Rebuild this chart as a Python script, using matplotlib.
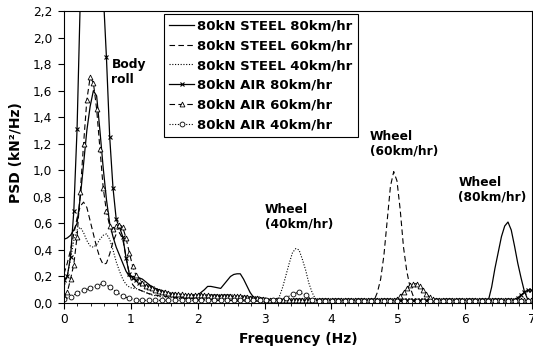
import numpy as np
import matplotlib.pyplot as plt
from matplotlib.ticker import MultipleLocator, FuncFormatter

# frequency resolution of the spectra (Hz): 2048 / 1024 point records at 100 Hz
df_fine = 100 / 2048
df_coarse = 100 / 1024

# PSD values (kN^2/Hz), steel and air suspension, 80kN axle load
steel_80 = [
    0.48, 0.49, 0.51, 0.55, 0.60, 0.80, 1.05, 1.30, 1.48, 1.60, 1.56, 1.30,
    1.02, 0.78, 0.60, 0.50, 0.42, 0.36, 0.30, 0.24, 0.20, 0.20, 0.20, 0.19,
    0.18, 0.16, 0.14, 0.12, 0.11, 0.10, 0.09, 0.08, 0.07, 0.065, 0.06, 0.055,
    0.05, 0.05, 0.045, 0.045, 0.05, 0.06, 0.08, 0.10, 0.125, 0.125, 0.12, 0.115,
    0.11, 0.14, 0.17, 0.20, 0.215, 0.22, 0.22, 0.18, 0.13, 0.08, 0.045, 0.03,
    0.02, 0.02, 0.015, 0.015, 0.015, 0.015, 0.015, 0.015, 0.015, 0.015, 0.015, 0.015,
    0.015, 0.015, 0.015, 0.015, 0.015, 0.015, 0.015, 0.015, 0.015, 0.015, 0.015, 0.015,
    0.015, 0.015, 0.015, 0.015, 0.015, 0.015, 0.015, 0.015, 0.015, 0.015, 0.015, 0.015,
    0.015, 0.015, 0.015, 0.015, 0.015, 0.015, 0.015, 0.015, 0.015, 0.015, 0.015, 0.015,
    0.015, 0.015, 0.015, 0.015, 0.015, 0.015, 0.015, 0.015, 0.015, 0.015, 0.015, 0.015,
    0.015, 0.015, 0.015, 0.015, 0.015, 0.015, 0.015, 0.015, 0.015, 0.015, 0.02, 0.12,
    0.26, 0.38, 0.50, 0.58, 0.61, 0.55, 0.43, 0.30, 0.19, 0.09, 0.03, 0.01,
]
steel_60 = [
    0.22, 0.30, 0.40, 0.52, 0.64, 0.73, 0.76, 0.72, 0.62, 0.52, 0.42, 0.34,
    0.29, 0.30, 0.37, 0.46, 0.52, 0.53, 0.48, 0.35, 0.22, 0.14, 0.11, 0.10,
    0.09, 0.08, 0.07, 0.065, 0.06, 0.055, 0.05, 0.05, 0.045, 0.045, 0.04, 0.04,
    0.04, 0.035, 0.035, 0.035, 0.035, 0.03, 0.03, 0.03, 0.025, 0.025, 0.025, 0.02,
    0.02, 0.02, 0.02, 0.02, 0.015, 0.015, 0.015, 0.015, 0.015, 0.015, 0.015, 0.015,
    0.015, 0.015, 0.015, 0.015, 0.015, 0.015, 0.015, 0.015, 0.015, 0.015, 0.015, 0.015,
    0.015, 0.015, 0.015, 0.015, 0.015, 0.015, 0.015, 0.015, 0.015, 0.015, 0.015, 0.015,
    0.015, 0.015, 0.015, 0.015, 0.015, 0.015, 0.015, 0.015, 0.015, 0.015, 0.015, 0.02,
    0.08, 0.18, 0.36, 0.62, 0.88, 0.99, 0.92, 0.70, 0.42, 0.24, 0.12, 0.05,
    0.02, 0.015, 0.015, 0.015, 0.015, 0.015, 0.015, 0.015, 0.015, 0.015, 0.015, 0.015,
    0.015, 0.015, 0.015, 0.015, 0.015, 0.015, 0.015, 0.015, 0.015, 0.015, 0.015, 0.015,
    0.015, 0.015, 0.015, 0.015, 0.015, 0.015, 0.015, 0.015, 0.015, 0.015, 0.015, 0.015,
]
steel_40 = [
    0.12, 0.20, 0.33, 0.47, 0.55, 0.57, 0.53, 0.47, 0.43, 0.42, 0.44, 0.48,
    0.51, 0.52, 0.48, 0.40, 0.31, 0.24, 0.18, 0.14, 0.12, 0.11, 0.11, 0.10,
    0.09, 0.08, 0.07, 0.06, 0.055, 0.05, 0.045, 0.045, 0.04, 0.04, 0.035, 0.035,
    0.03, 0.03, 0.03, 0.025, 0.025, 0.025, 0.025, 0.025, 0.02, 0.02, 0.02, 0.02,
    0.02, 0.02, 0.02, 0.02, 0.02, 0.02, 0.02, 0.02, 0.02, 0.02, 0.02, 0.02,
    0.02, 0.02, 0.02, 0.02, 0.02, 0.02, 0.05, 0.12, 0.21, 0.30, 0.38, 0.41,
    0.40, 0.33, 0.25, 0.15, 0.08, 0.03, 0.015, 0.015, 0.015, 0.015, 0.015, 0.015,
    0.015, 0.015, 0.015, 0.015, 0.015, 0.015, 0.015, 0.015, 0.015, 0.015, 0.015, 0.015,
    0.015, 0.015, 0.015, 0.015, 0.015, 0.015, 0.015, 0.015, 0.015, 0.015, 0.015, 0.015,
    0.015, 0.015, 0.015, 0.015, 0.015, 0.015, 0.015, 0.015, 0.015, 0.015, 0.015, 0.015,
    0.015, 0.015, 0.015, 0.015, 0.015, 0.015, 0.015, 0.015, 0.015, 0.015, 0.015, 0.015,
    0.015, 0.015, 0.015, 0.015, 0.015, 0.015, 0.015, 0.015, 0.015, 0.015, 0.015, 0.015,
]
air_80 = [
    0.17, 0.20, 0.35, 0.69, 1.31, 2.30, 3.00, 3.60, 3.90, 3.90, 3.50, 2.90,
    2.35, 1.85, 1.25, 0.87, 0.63, 0.57, 0.50, 0.34, 0.22, 0.19, 0.17, 0.15,
    0.14, 0.13, 0.12, 0.11, 0.10, 0.09, 0.08, 0.075, 0.07, 0.065, 0.06, 0.06,
    0.055, 0.055, 0.055, 0.055, 0.055, 0.055, 0.055, 0.055, 0.05, 0.05, 0.05, 0.05,
    0.05, 0.05, 0.05, 0.05, 0.045, 0.045, 0.045, 0.045, 0.04, 0.04, 0.035, 0.035,
    0.03, 0.03, 0.025, 0.025, 0.02, 0.02, 0.02, 0.02, 0.02, 0.02, 0.02, 0.02,
    0.02, 0.02, 0.02, 0.02, 0.02, 0.02, 0.02, 0.02, 0.02, 0.02, 0.02, 0.02,
    0.02, 0.02, 0.02, 0.02, 0.02, 0.02, 0.02, 0.02, 0.02, 0.02, 0.02, 0.02,
    0.02, 0.02, 0.02, 0.02, 0.02, 0.02, 0.02, 0.02, 0.02, 0.02, 0.02, 0.02,
    0.02, 0.02, 0.02, 0.02, 0.02, 0.02, 0.02, 0.02, 0.02, 0.02, 0.02, 0.02,
    0.02, 0.02, 0.02, 0.02, 0.02, 0.02, 0.02, 0.02, 0.02, 0.02, 0.02, 0.02,
    0.02, 0.02, 0.02, 0.02, 0.02, 0.02, 0.025, 0.04, 0.06, 0.08, 0.095, 0.10,
]
air_60 = [
    0.05, 0.08, 0.18, 0.29, 0.50, 0.84, 1.20, 1.53, 1.70, 1.66, 1.46, 1.16,
    0.87, 0.69, 0.58, 0.56, 0.58, 0.59, 0.57, 0.49, 0.38, 0.28, 0.21, 0.17,
    0.15, 0.13, 0.12, 0.11, 0.10, 0.09, 0.085, 0.08, 0.075, 0.07, 0.07, 0.065,
    0.065, 0.06, 0.06, 0.06, 0.06, 0.06, 0.06, 0.06, 0.06, 0.055, 0.055, 0.055,
    0.055, 0.055, 0.05, 0.05, 0.05, 0.05, 0.05, 0.045, 0.045, 0.04, 0.04, 0.035,
    0.03, 0.03, 0.025, 0.025, 0.02, 0.02, 0.02, 0.02, 0.02, 0.02, 0.02, 0.02,
    0.02, 0.02, 0.02, 0.02, 0.02, 0.02, 0.02, 0.02, 0.02, 0.02, 0.02, 0.02,
    0.02, 0.02, 0.02, 0.02, 0.02, 0.02, 0.02, 0.02, 0.02, 0.02, 0.02, 0.02,
    0.02, 0.02, 0.02, 0.02, 0.02, 0.02, 0.03, 0.05, 0.08, 0.11, 0.135, 0.145,
    0.145, 0.13, 0.10, 0.07, 0.045, 0.03, 0.02, 0.02, 0.02, 0.02, 0.02, 0.02,
    0.02, 0.02, 0.02, 0.02, 0.02, 0.02, 0.02, 0.02, 0.02, 0.02, 0.02, 0.02,
    0.02, 0.02, 0.02, 0.02, 0.02, 0.02, 0.02, 0.02, 0.02, 0.02, 0.02, 0.02,
]
air_40 = [
    0.03, 0.045, 0.075, 0.095, 0.11, 0.13, 0.15, 0.12, 0.085, 0.05, 0.035, 0.025,
    0.02, 0.02, 0.02, 0.02, 0.02, 0.02, 0.02, 0.02, 0.02, 0.02, 0.02, 0.02,
    0.02, 0.02, 0.02, 0.02, 0.02, 0.02, 0.02, 0.02, 0.02, 0.02, 0.035, 0.07,
    0.08, 0.06, 0.025, 0.015, 0.015, 0.015, 0.015, 0.015, 0.015, 0.015, 0.015, 0.015,
    0.015, 0.015, 0.015, 0.015, 0.015, 0.015, 0.015, 0.015, 0.015, 0.015, 0.015, 0.015,
    0.015, 0.015, 0.015, 0.015, 0.015, 0.015, 0.015, 0.015, 0.015, 0.015, 0.015, 0.015,
    0.015,
]

labels = ['80kN STEEL 80km/hr', '80kN STEEL 60km/hr', '80kN STEEL 40km/hr',
          '80kN AIR 80km/hr', '80kN AIR 60km/hr', '80kN AIR 40km/hr']

notes = [
    (0.71, 1.74, 'Body\nroll'),
    (3.00, 0.65, 'Wheel\n(40km/hr)'),
    (4.57, 1.20, 'Wheel\n(60km/hr)'),
    (5.90, 0.85, 'Wheel\n(80km/hr)'),
]


def freqs(vals, df):
    return np.arange(len(vals)) * df


dashed = (0, (5, 3))
dotted = (0, (1, 1.5))

fig = plt.figure(figsize=(5.33, 3.52), dpi=100)
ax = fig.add_axes([64 / 533, 49 / 352, 468 / 533, 292 / 352])

ax.plot(freqs(steel_80, df_fine), steel_80, color='k', lw=0.9, ls='-', label=labels[0])
ax.plot(freqs(steel_60, df_fine), steel_60, color='k', lw=0.8, ls=dashed, label=labels[1])
ax.plot(freqs(steel_40, df_fine), steel_40, color='k', lw=0.8, ls=dotted, label=labels[2])
ax.plot(freqs(air_80, df_fine), air_80, color='k', lw=0.9, ls='-', marker='x',
        ms=3, mew=0.8, label=labels[3])
ax.plot(freqs(air_60, df_fine), air_60, color='k', lw=0.8, ls=dashed, marker='^',
        ms=3.5, mfc='white', mew=0.6, label=labels[4])
ax.plot(freqs(air_40, df_coarse), air_40, color='k', lw=0.8, ls=dotted, marker='o',
        ms=3.5, mfc='white', mew=0.6, label=labels[5])

ax.set_xlim(0, 7)
ax.set_ylim(0, 2.2)
ax.xaxis.set_major_locator(MultipleLocator(1))
ax.xaxis.set_minor_locator(MultipleLocator(0.2))
ax.yaxis.set_major_locator(MultipleLocator(0.2))
ax.yaxis.set_major_formatter(FuncFormatter(lambda v, p: f'{v:.1f}'.replace('.', ',')))
ax.tick_params(which='major', direction='out', length=4.5, width=0.8, labelsize=8.8)
ax.tick_params(axis='y', pad=4)
ax.tick_params(axis='x', pad=2.5)
ax.tick_params(which='minor', direction='out', length=2.5, width=0.6)
for s in ax.spines.values():
    s.set_linewidth(0.8)

ax.set_xlabel('Frequency (Hz)', fontsize=10, fontweight='bold')
ax.set_ylabel('PSD (kN²/Hz)', fontsize=10, fontweight='bold')
ax.xaxis.set_label_coords(0.5, -0.10)
ax.yaxis.set_label_coords(-0.088, 0.514)

for x, y, t in notes:
    ax.text(x, y, t, fontsize=8.8, fontweight='bold', ha='left', va='center',
            linespacing=1.15)

leg = ax.legend(loc='upper left', bbox_to_anchor=(0.2137, 0.9897), borderaxespad=0,
                fancybox=False, edgecolor='black', framealpha=1,
                prop={'weight': 'bold', 'size': 9.5}, handlelength=1.9,
                handletextpad=0.2, labelspacing=0.52, borderpad=0.4)
leg.get_frame().set_linewidth(0.8)

fig.savefig('out.png', dpi=100)
